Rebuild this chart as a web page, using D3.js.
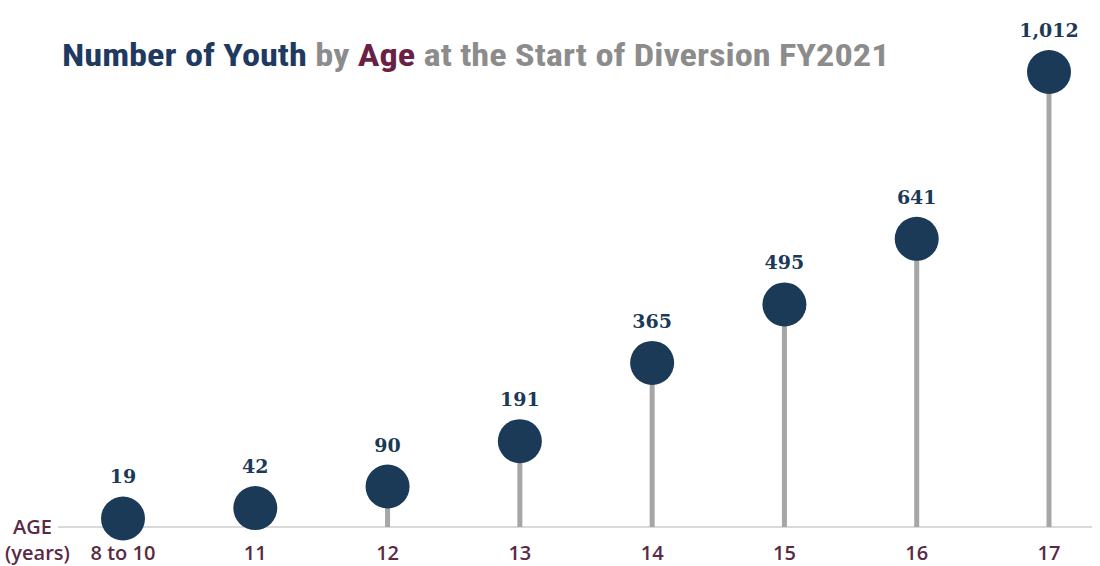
<!DOCTYPE html>
<html>
<head>
<meta charset="utf-8">
<script src="https://cdn.jsdelivr.net/npm/d3@7"></script>
<style>
  body { margin: 0; background: #fff; }
  svg { display: block; }
</style>
</head>
<body>
<div id="mainDiv"></div>
<script>
'use strict';

// categories and values
var ages = ['8 to 10', '11', '12', '13', '14', '15', '16', '17'];
var youth = [19, 42, 90, 191, 365, 495, 641, 1012];

var chart = {};
chart.w = 1100;
chart.h = 566;
chart.baseY = 527;   // y of the age axis line
chart.r = 22;        // dot radius
chart.titleW = 828;  // width the title spans

chart.navy = '#1b3a57';
chart.maroon = '#5a2a45';

chart.run = function()
{
    var svg = d3.select('#mainDiv').append('svg')
        .attr('width', chart.w)
        .attr('height', chart.h);

    var x = d3.scalePoint().domain(ages).range([123, 1049]);
    var y = d3.scaleLinear().domain([0, 1012]).range([chart.baseY, 72]);

    // title, three colours, stretched to the reference width
    var title = svg.append('text')
        .attr('x', 0)
        .attr('y', 0)
        .style('font-family', '"Roboto Condensed", "Liberation Sans Narrow", Roboto, sans-serif')
        .style('font-weight', 'bold')
        .style('font-size', '31px');
    title.append('tspan').attr('fill', '#1f3a60').text('Number of Youth ');
    title.append('tspan').attr('fill', '#8c8c8c').text('by ');
    title.append('tspan').attr('fill', '#6a1f45').text('Age');
    title.append('tspan').attr('fill', '#8c8c8c').text(' at the Start of Diversion FY2021');
    var tw = title.node().getComputedTextLength();
    title.attr('transform', 'translate(62,66) scale(' + (chart.titleW / tw) + ',1)');

    // axis line
    svg.append('line')
        .attr('x1', 58).attr('x2', 1092)
        .attr('y1', chart.baseY).attr('y2', chart.baseY)
        .attr('stroke', '#d9d9d9')
        .attr('stroke-width', 2);

    var data = ages.map(function(a, i) { return {age: a, v: youth[i]}; });

    // stems
    svg.selectAll('.stem')
        .data(data)
        .enter()
        .append('line')
        .attr('class', 'stem')
        .attr('x1', function(d) { return x(d.age); })
        .attr('x2', function(d) { return x(d.age); })
        .attr('y1', chart.baseY)
        .attr('y2', function(d) { return y(d.v); })
        .attr('stroke', '#a6a6a6')
        .attr('stroke-width', 5);

    // dots
    svg.selectAll('.dot')
        .data(data)
        .enter()
        .append('circle')
        .attr('class', 'dot')
        .attr('cx', function(d) { return x(d.age); })
        .attr('cy', function(d) { return y(d.v); })
        .attr('r', chart.r)
        .attr('fill', chart.navy);

    // value labels
    svg.selectAll('.val')
        .data(data)
        .enter()
        .append('text')
        .attr('class', 'val')
        .attr('x', function(d) { return x(d.age); })
        .attr('y', function(d) { return y(d.v) - 35; })
        .attr('text-anchor', 'middle')
        .attr('fill', chart.navy)
        .style('font-family', '"DejaVu Serif", "Liberation Serif", serif')
        .style('font-weight', 'bold')
        .style('font-size', '19px')
        .text(function(d) { return d3.format(',')(d.v); });

    // age tick labels
    svg.selectAll('.tick-lbl')
        .data(ages)
        .enter()
        .append('text')
        .attr('class', 'tick-lbl')
        .attr('x', function(d) { return x(d); })
        .attr('y', 560)
        .attr('text-anchor', 'middle')
        .attr('fill', chart.maroon)
        .style('font-family', '"Open Sans", "Noto Sans", sans-serif')
        .style('font-weight', '600')
        .style('font-size', '20px')
        .text(function(d) { return d; });

    // axis title
    var lbl = svg.append('text')
        .attr('fill', chart.maroon)
        .style('font-family', '"Open Sans", "Noto Sans", sans-serif')
        .style('font-weight', '600')
        .style('font-size', '20px');
    lbl.append('tspan').attr('x', 13).attr('y', 534).text('AGE');
    lbl.append('tspan').attr('x', 5).attr('y', 560).text('(years)');
}

window.onload = chart.run;
</script>
</body>
</html>
